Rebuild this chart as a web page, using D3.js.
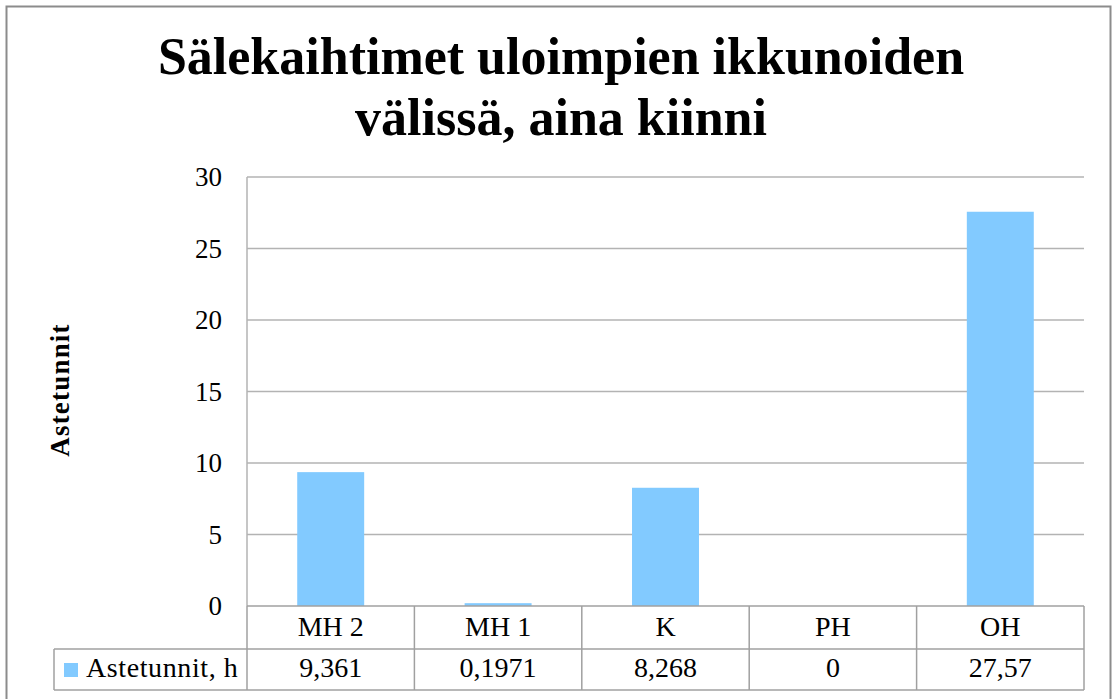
<!DOCTYPE html>
<html>
<head>
<meta charset="utf-8">
<script src="https://cdn.jsdelivr.net/npm/d3@7/dist/d3.min.js"></script>
<style>
  html, body { margin: 0; padding: 0; background: #fff; }
  svg { display: block; }
</style>
</head>
<body>
<svg id="chart" width="1113" height="699"></svg>
<script>
const titleLines = ["Sälekaihtimet uloimpien ikkunoiden", "välissä, aina kiinni"];
const categories = ["MH 2", "MH 1", "K", "PH", "OH"];
const values = [9.361, 0.1971, 8.268, 0, 27.57];
const valueLabels = ["9,361", "0,1971", "8,268", "0", "27,57"];
const seriesName = "Astetunnit, h";
const yAxisTitle = "Astetunnit";
const yTicks = [0, 5, 10, 15, 20, 25, 30];

(function () {
const svg = d3.select("#chart");
const serif = "'Liberation Serif', 'Times New Roman', serif";
const gridColor = "#b3b3b3";
const tableColor = "#a0a0a0";
const barColor = "#82caff";

// outer chart border
svg.append("rect")
  .attr("x", 6.5).attr("y", 6.5).attr("width", 1104).attr("height", 710)
  .attr("fill", "#fff").attr("stroke", "#8c8c8c").attr("stroke-width", 2);

// title
svg.append("g").selectAll("text").data(titleLines).join("text")
  .attr("x", 561).attr("y", (d, i) => 74 + i * 61)
  .attr("text-anchor", "middle")
  .attr("font-family", serif).attr("font-weight", "bold")
  .attr("font-size", 52).attr("fill", "#000")
  .text(d => d);

const pLeft = 247, pRight = 1084, pTop = 177, zeroY = 606;
const x = d3.scaleBand().domain(categories).range([pLeft, pRight])
  .paddingInner(0.6).paddingOuter(0.3);
const xCell = d3.scaleBand().domain(categories).range([pLeft, pRight]).padding(0);
const y = d3.scaleLinear().domain([0, 30]).range([zeroY, pTop]);

// gridlines
svg.append("g").selectAll("line").data(yTicks.filter(t => t > 0)).join("line")
  .attr("x1", pLeft).attr("x2", pRight)
  .attr("y1", d => y(d)).attr("y2", d => y(d))
  .attr("stroke", gridColor).attr("stroke-width", 1.5);

// y axis
const yAxis = d3.axisLeft(y).tickValues(yTicks).tickSize(0).tickPadding(25)
  .tickFormat(d => String(d));
const ya = svg.append("g").attr("transform", `translate(${pLeft},0)`).call(yAxis);
ya.select(".domain").remove();
ya.selectAll("text").attr("font-family", serif).attr("font-size", 27).attr("fill", "#000");

// vertical axis line
svg.append("line").attr("x1", pLeft).attr("x2", pLeft).attr("y1", pTop).attr("y2", zeroY)
  .attr("stroke", gridColor).attr("stroke-width", 1.5);

// bars
svg.append("g").selectAll("rect").data(values).join("rect")
  .attr("x", (d, i) => x(categories[i]))
  .attr("width", x.bandwidth())
  .attr("y", d => y(d))
  .attr("height", d => zeroY - y(d))
  .attr("fill", barColor);

// y axis title
svg.append("text")
  .attr("transform", "translate(69,390) rotate(-90)")
  .attr("text-anchor", "middle")
  .attr("font-family", serif).attr("font-weight", "bold")
  .attr("font-size", 27).attr("letter-spacing", 1.2).attr("fill", "#000")
  .text(yAxisTitle);

// data table
const rowMid = 649, tableBottom = 690, legendLeft = 54;
const tbl = svg.append("g").attr("stroke", tableColor).attr("stroke-width", 1.5);
tbl.append("line").attr("x1", pLeft).attr("x2", pRight).attr("y1", zeroY).attr("y2", zeroY);
tbl.append("line").attr("x1", legendLeft).attr("x2", pRight).attr("y1", rowMid).attr("y2", rowMid);
tbl.append("line").attr("x1", legendLeft).attr("x2", pRight).attr("y1", tableBottom).attr("y2", tableBottom);
tbl.append("line").attr("x1", legendLeft).attr("x2", legendLeft).attr("y1", rowMid).attr("y2", tableBottom);
tbl.selectAll("line.sep").data(categories.concat(["end"])).join("line").attr("class", "sep")
  .attr("x1", (d, i) => i < categories.length ? xCell(d) : pRight)
  .attr("x2", (d, i) => i < categories.length ? xCell(d) : pRight)
  .attr("y1", zeroY).attr("y2", tableBottom);

// category labels
svg.append("g").selectAll("text").data(categories).join("text")
  .attr("x", d => xCell(d) + xCell.bandwidth() / 2).attr("y", 636)
  .attr("text-anchor", "middle")
  .attr("font-family", serif).attr("font-size", 28).attr("fill", "#000")
  .text(d => d);

// value labels
svg.append("g").selectAll("text").data(valueLabels).join("text")
  .attr("x", (d, i) => xCell(categories[i]) + xCell.bandwidth() / 2).attr("y", 677)
  .attr("text-anchor", "middle")
  .attr("font-family", serif).attr("font-size", 28).attr("fill", "#000")
  .text(d => d);

// legend key
svg.append("rect").attr("x", 64).attr("y", 663).attr("width", 14).attr("height", 14).attr("fill", barColor);
svg.append("text").attr("x", 86).attr("y", 677)
  .attr("font-family", serif).attr("font-size", 28).attr("letter-spacing", 0.6).attr("fill", "#000")
  .text(seriesName);
})();
</script>
</body>
</html>
